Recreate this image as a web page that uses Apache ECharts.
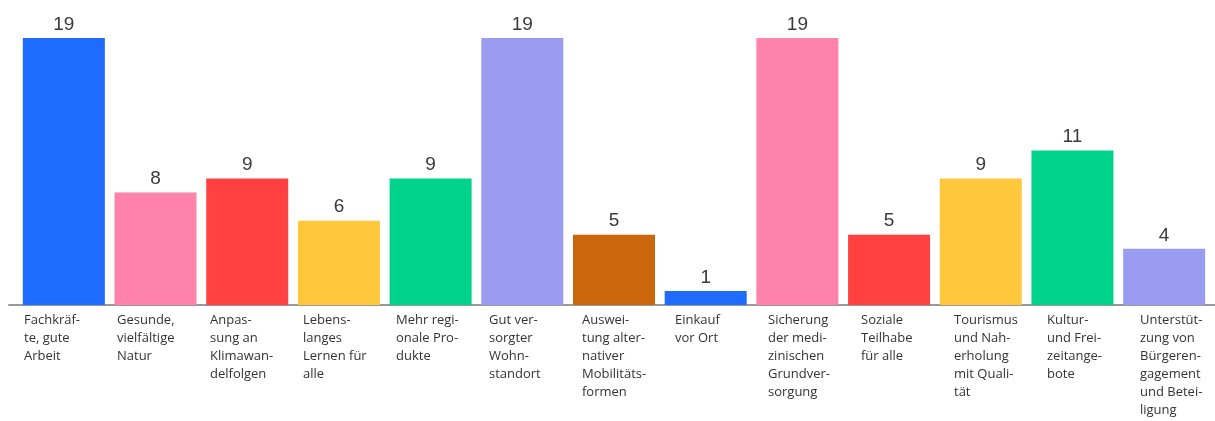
<!DOCTYPE html>
<html><head><meta charset="utf-8">
<script src="https://cdn.jsdelivr.net/npm/echarts@6/dist/echarts.min.js"></script>
<style>html,body{margin:0;padding:0;background:#fff}#c{width:1215px;height:421px}</style>
</head><body><div id="c"></div>
<script>
const categories = [
  "Fachkräf-\nte, gute\nArbeit",
  "Gesunde,\nvielfältige\nNatur",
  "Anpas-\nsung an\nKlimawan-\ndelfolgen",
  "Lebens-\nlanges\nLernen für\nalle",
  "Mehr regi-\nonale Pro-\ndukte",
  "Gut ver-\nsorgter\nWohn-\nstandort",
  "Auswei-\ntung alter-\nnativer\nMobilitäts-\nformen",
  "Einkauf\nvor Ort",
  "Sicherung\nder medi-\nzinischen\nGrundver-\nsorgung",
  "Soziale\nTeilhabe\nfür alle",
  "Tourismus\nund Nah-\nerholung\nmit Quali-\ntät",
  "Kultur-\nund Frei-\nzeitange-\nbote",
  "Unterstüt-\nzung von\nBürgeren-\ngagement\nund Betei-\nligung"
];
const values = [19, 8, 9, 6, 9, 19, 5, 1, 19, 5, 9, 11, 4];
const colors = ["#1e6bff","#ff82ad","#ff4141","#ffc83c","#00d48c","#9a9cf2","#cc660d",
                "#1e6bff","#ff82ad","#ff4141","#ffc83c","#00d48c","#9a9cf2"];

const chart = echarts.init(document.getElementById('c'), null, {renderer:'canvas'});
chart.setOption({
  animation: false,
  grid: [
    {left: 18, right: 5, top: 38, bottom: 116, containLabel: false, outerBoundsMode: 'none'},
    {left: 24, width: 1209, top: 38, bottom: 116, containLabel: false, outerBoundsMode: 'none'},
    {left: 9, right: 0, top: 38, bottom: 116, containLabel: false, outerBoundsMode: 'none'}
  ],
  xAxis: [{
    type: 'category',
    gridIndex: 0,
    data: categories,
    axisTick: {show: false},
    axisLine: {show: false},
    axisLabel: {show: false}
  }, {
    type: 'category',
    gridIndex: 1,
    position: 'bottom',
    data: categories,
    axisTick: {show: false},
    axisLine: {show: false},
    axisLabel: {
      interval: 0,
      margin: 6,
      width: 93,
      align: 'center',
      verticalAlign: 'top',
      formatter: v => v.split('\n').map(s => '{l|' + s + '}').join('\n'),
      rich: {
        l: {align: 'left', fontFamily: 'Open Sans', fontSize: 13, color: '#333', lineHeight: 18}
      }
    }
  }, {
    type: 'category',
    gridIndex: 2,
    data: categories,
    axisTick: {show: false},
    axisLine: {show: true, lineStyle: {color: '#999', width: 2}},
    axisLabel: {show: false}
  }],
  yAxis: [
    {type: 'value', gridIndex: 0, min: 0, max: 19, show: false, splitLine: {show: false}},
    {type: 'value', gridIndex: 1, min: 0, max: 19, show: false, splitLine: {show: false}},
    {type: 'value', gridIndex: 2, min: 0, max: 19, show: false, splitLine: {show: false}}
  ],
  series: [{
    type: 'bar',
    xAxisIndex: 0, yAxisIndex: 0,
    barWidth: 82,
    z: 3,
    data: values.map((v, i) => ({value: v, itemStyle: {color: colors[i]}})),
    label: {
      show: true, position: 'top', distance: 4,
      fontFamily: 'Liberation Sans', fontSize: 19, color: '#3a3a3a'
    }
  }]
});
</script></body></html>
